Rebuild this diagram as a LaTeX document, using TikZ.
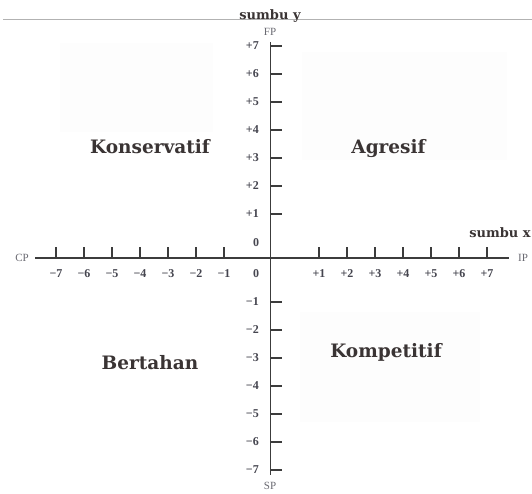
\documentclass[tikz,border=0pt]{standalone}
\usepackage{fontspec}
\setmainfont{Liberation Serif}
\newfontfamily\quadfont{DejaVu Serif}
\definecolor{axisgray}{HTML}{3C3C3C}
\definecolor{labgray}{HTML}{45454F}
\definecolor{quadtext}{HTML}{3A3434}
\definecolor{faintbox}{HTML}{FDFDFD}
\begin{document}
\begin{tikzpicture}[x=1pt,y=-1pt,
  axisline/.style={draw=axisgray, line width=1.6pt},
  tickline/.style={draw=axisgray, line width=1.4pt},
  ticklab/.style={font=\fontsize{12}{12}\selectfont\bfseries, text=labgray, inner sep=0pt},
  poslab/.style={font=\fontsize{11}{11}\selectfont, text=labgray!80, inner sep=0pt},
  axtitle/.style={font=\quadfont\bfseries\fontsize{13}{13}\selectfont, text=quadtext, inner sep=0pt, anchor=base},
  quadlab/.style={font=\quadfont\bfseries\fontsize{18.5}{19}\selectfont, text=quadtext, inner sep=0pt, anchor=base},
  bgbox/.style={fill=faintbox, draw=none}
]
\useasboundingbox (0,0) rectangle (532,493);
\fill[white] (0,0) rectangle (532,493);
% faint background boxes
\path[bgbox] (60,43) rectangle (213,132);
\path[bgbox] (302,52) rectangle (507,160);
\path[bgbox] (300,312) rectangle (480,422);
% top rule
\coordinate (ruleL) at (3,19);
\coordinate (ruleR) at (532,19);
\draw[black!30, line width=0.8pt] (ruleL) -- (ruleR);
% axis titles
\node[axtitle] (sumbuy) at (270,19.5) {sumbu y};
\node[axtitle] (sumbux) at (500,237.5) {sumbu x};
% end labels
\node[poslab] (FP) at (270,32) {FP};
\node[poslab] (SP) at (270,486) {SP};
\node[poslab] (CP) at (22,258) {CP};
\node[poslab] (IP) at (523,258) {IP};
% axes
\coordinate (ytop) at (270.5,42);
\coordinate (ybot) at (270.5,475);
\coordinate (xleft) at (35,258);
\coordinate (xright) at (509,258);
\draw[axisline] (ytop) -- (ybot);
\draw[axisline] (xleft) -- (xright);
% y ticks and labels
\foreach \k in {1,...,7}{
  \coordinate (yp\k) at (270.5,{242-28*\k});
  \coordinate (ype\k) at (282,{242-28*\k});
  \draw[tickline] (yp\k) -- (ype\k);
  \node[ticklab, anchor=east] (yplab\k) at (259,{242-28*\k}) {+\k};
  \coordinate (yn\k) at (270.5,{274+28*\k});
  \coordinate (yne\k) at (282,{274+28*\k});
  \draw[tickline] (yn\k) -- (yne\k);
  \node[ticklab, anchor=east] (ynlab\k) at (259,{274+28*\k}) {−\k};
}
% x ticks and labels
\foreach \k in {1,...,7}{
  \coordinate (xn\k) at ({252-28*\k},258);
  \coordinate (xne\k) at ({252-28*\k},247);
  \draw[tickline] (xn\k) -- (xne\k);
  \node[ticklab] (xnlab\k) at ({252-28*\k},274) {−\k};
  \coordinate (xp\k) at ({291+28*\k},258);
  \coordinate (xpe\k) at ({291+28*\k},247);
  \draw[tickline] (xp\k) -- (xpe\k);
  \node[ticklab] (xplab\k) at ({291+28*\k},274) {+\k};
}
% zero labels
\node[ticklab] (zeroup) at (256,243) {0};
\node[ticklab] (zerodn) at (256,274) {0};
% quadrant labels
\node[quadlab] (kons) at (150,153) {Konservatif};
\node[quadlab] (agr) at (388.5,153.5) {Agresif};
\node[quadlab] (bert) at (150,369) {Bertahan};
\node[quadlab] (komp) at (386,357) {Kompetitif};
\end{tikzpicture}
\end{document}
